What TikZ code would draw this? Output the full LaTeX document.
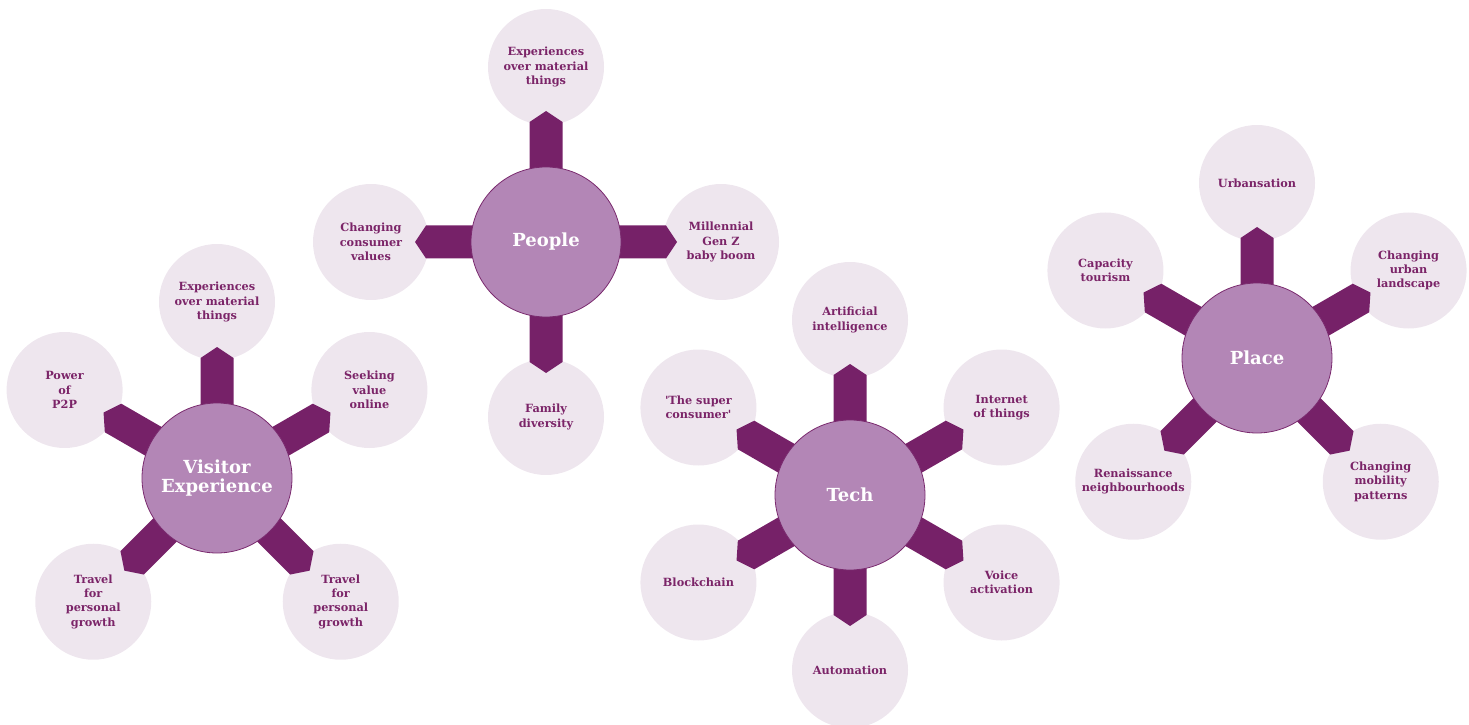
\documentclass[tikz,border=0pt]{standalone}
\usepackage{fontspec}
\setmainfont{DejaVu Serif}
\usetikzlibrary{calc}
\definecolor{spokecol}{HTML}{762168}
\definecolor{hubfill}{HTML}{B386B6}
\definecolor{hubline}{HTML}{7A2A6E}
\definecolor{satfill}{HTML}{EEE6EE}
\definecolor{sattext}{HTML}{7B2468}
\pgfdeclarelayer{bg}
\pgfdeclarelayer{mid}
\pgfsetlayers{bg,mid,main}
\tikzset{
  hub/.style={circle, fill=hubfill, draw=hubline, line width=0.8pt, minimum size=150pt, inner sep=0pt,
    text=white, font=\bfseries\fontsize{18}{18.5}\selectfont, align=center},
  sat/.style={circle, fill=satfill, minimum size=116pt, inner sep=0pt,
    text=sattext, font=\bfseries\fontsize{11.3}{14.3}\selectfont, align=center},
  spokefill/.style={fill=spokecol}
}
\newcommand\spoke[2]{%
  \coordinate (sA) at ($(#1.center)!120pt!(#2.center)$);
  \coordinate (sB) at ($(#1.center)!40pt!(#2.center)$);
  \fill[spokefill] ($(sB)!16.5pt!90:(#2.center)$) -- ($(sA)!16.5pt!90:(#2.center)$)
    -- ($(#1.center)!131pt!(#2.center)$) -- ($(sA)!16.5pt!-90:(#2.center)$)
    -- ($(sB)!16.5pt!-90:(#2.center)$) -- cycle;}
\begin{document}
\begin{tikzpicture}[x=1pt,y=1pt]
\useasboundingbox (0,0) rectangle (1469,724);
% hubs
\node[hub] (P) at (546,482) {People};
\node[hub] (V) at (217,246) {Visitor\\Experience};
\node[hub] (T) at (850,229) {Tech};
\node[hub] (L) at (1257,366) {Place};
\begin{pgfonlayer}{bg}
% People
\node[sat] (P1) at ($(P)+(90:175pt)$) {Experiences\\over material\\things};
\node[sat] (P2) at ($(P)+(0:175pt)$) {Millennial\\Gen Z\\baby boom};
\node[sat] (P3) at ($(P)+(180:175pt)$) {Changing\\consumer\\values};
\node[sat] (P4) at ($(P)+(270:175pt)$) {Family\\diversity};
% Visitor
\node[sat] (V1) at ($(V)+(90:176pt)$) {Experiences\\over material\\things};
\node[sat] (V2) at ($(V)+(30:176pt)$) {Seeking\\value\\online};
\node[sat] (V3) at ($(V)+(150:176pt)$) {Power\\of\\P2P};
\node[sat] (V4) at ($(V)+(225:175pt)$) {Travel\\for\\personal\\growth};
\node[sat] (V5) at ($(V)+(315:175pt)$) {Travel\\for\\personal\\growth};
% Tech
\node[sat] (T1) at ($(T)+(90:175pt)$) {Artificial\\intelligence};
\node[sat] (T2) at ($(T)+(30:175pt)$) {Internet\\of things};
\node[sat] (T3) at ($(T)+(150:175pt)$) {\textquotesingle The super\\consumer\textquotesingle};
\node[sat] (T4) at ($(T)+(210:175pt)$) {Blockchain};
\node[sat] (T5) at ($(T)+(330:175pt)$) {Voice\\activation};
\node[sat] (T6) at ($(T)+(270:175pt)$) {Automation};
% Place
\node[sat] (L1) at ($(L)+(90:175pt)$) {Urbansation};
\node[sat] (L2) at ($(L)+(30:175pt)$) {Changing\\urban\\landscape};
\node[sat] (L3) at ($(L)+(150:175pt)$) {Capacity\\tourism};
\node[sat] (L4) at ($(L)+(225:175pt)$) {Renaissance\\neighbourhoods};
\node[sat] (L5) at ($(L)+(315:175pt)$) {Changing\\mobility\\patterns};
\end{pgfonlayer}
\begin{pgfonlayer}{mid}
\spoke{P}{P1}\spoke{P}{P2}\spoke{P}{P3}\spoke{P}{P4}
\spoke{V}{V1}\spoke{V}{V2}\spoke{V}{V3}\spoke{V}{V4}\spoke{V}{V5}
\spoke{T}{T1}\spoke{T}{T2}\spoke{T}{T3}\spoke{T}{T4}\spoke{T}{T5}\spoke{T}{T6}
\spoke{L}{L1}\spoke{L}{L2}\spoke{L}{L3}\spoke{L}{L4}\spoke{L}{L5}
\end{pgfonlayer}
\end{tikzpicture}
\end{document}
